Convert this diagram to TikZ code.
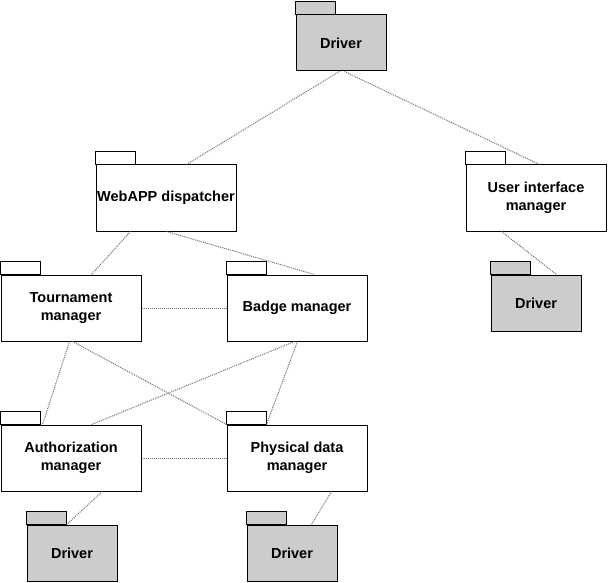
\documentclass[tikz,border=0pt]{standalone}
\usepackage{fontspec}
\setmainfont{Liberation Sans}
\definecolor{drvgray}{HTML}{CCCCCC}
\definecolor{linkgray}{HTML}{707070}
\begin{document}
\begin{tikzpicture}[x=1pt,y=-1pt,
  pkg/.style={draw=black,line width=1pt,fill=white,inner sep=0pt,align=center,
    font=\fontsize{14.5}{18}\selectfont\bfseries,minimum width=140pt,minimum height=66pt},
  drvpkg/.style={pkg,fill=drvgray,minimum width=90pt,minimum height=56pt},
  tabwhite/.style={draw=black,line width=1pt,fill=white},
  tabgray/.style={draw=black,line width=1pt,fill=drvgray},
  link/.style={draw=linkgray,line width=1pt,dash pattern=on 1pt off 1pt}]
\useasboundingbox (0,0) rectangle (608,583);
% packages
\node[drvpkg] (drv0) at (341,43) {Driver};
\node[pkg] (web) at (166,198) {WebAPP dispatcher};
\node[pkg] (ui) at (536,198) {User interface\\manager};
\node[drvpkg] (drv3) at (536,303) {Driver};
\node[pkg] (tour) at (71,308) {Tournament\\manager};
\node[pkg] (badge) at (297,308) {Badge manager};
\node[pkg] (auth) at (71,458) {Authorization\\manager};
\node[pkg] (phys) at (297,458) {Physical data\\manager};
\node[drvpkg] (drv1) at (72,553) {Driver};
\node[drvpkg] (drv2) at (292,553) {Driver};
% tabs
\foreach \n in {web,ui,tour,badge,auth,phys}
  \draw[tabwhite] (\n.north west) rectangle ++(40,-13);
\foreach \n in {drv0,drv1,drv2,drv3}
  \draw[tabgray] (\n.north west) rectangle ++(40,-13);
% links
\draw[link] ([xshift=44pt]drv0.south west) -- ([xshift=91pt]web.north west);
\draw[link] ([xshift=49pt]drv0.south west) -- ([xshift=74pt]ui.north west);
\draw[link] ([xshift=35pt]web.south west) -- ([xshift=91pt]tour.north west);
\draw[link] ([xshift=71pt]web.south west) -- ([xshift=88pt]badge.north west);
\draw[link] (tour.east) -- (badge.west);
\draw[link] ([xshift=69pt]tour.south west) -- ([xshift=42pt]auth.north west);
\draw[link] ([xshift=72pt]tour.south west) -- (phys.north west);
\draw[link] ([xshift=68pt]badge.south west) -- ([xshift=91pt]auth.north west);
\draw[link] ([xshift=71pt]badge.south west) -- ([xshift=40pt]phys.north west);
\draw[link] (auth.east) -- (phys.west);
\draw[link] ([xshift=102pt]auth.south west) -- ([xshift=40pt]drv1.north west);
\draw[link] ([xshift=105pt]phys.south west) -- ([xshift=65pt]drv2.north west);
\draw[link] ([xshift=36pt]ui.south west) -- ([xshift=66pt]drv3.north west);
\end{tikzpicture}
\end{document}
